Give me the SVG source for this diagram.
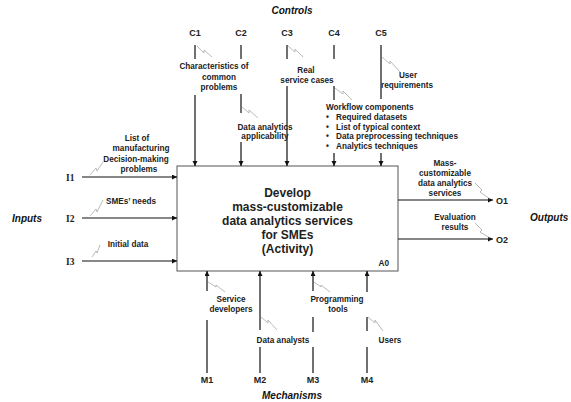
<svg xmlns="http://www.w3.org/2000/svg" width="571" height="402" viewBox="0 0 571 402">
<style>
.ln{stroke:#111;stroke-width:1.2;fill:none}
.sq{stroke:#aaa;stroke-width:0.8;fill:none}
.lb{font-family:"Liberation Sans",Arial,sans-serif;font-size:8.2px;font-weight:bold;fill:#222;text-anchor:middle}
.lbs{font-family:"Liberation Sans",Arial,sans-serif;font-size:8.2px;font-weight:bold;fill:#222}
.code{font-family:"Liberation Sans",Arial,sans-serif;font-size:9px;font-weight:bold;fill:#222;text-anchor:middle}
.icode{font-family:"Liberation Serif","Times New Roman",serif;font-size:9.5px;font-weight:bold;fill:#222}
.ttl{font-family:"Liberation Sans",Arial,sans-serif;font-size:10px;font-weight:bold;font-style:italic;fill:#111}
.main{font-family:"Liberation Sans",Arial,sans-serif;font-size:12px;font-weight:bold;fill:#222;text-anchor:middle}
</style>
<defs>
<marker id="ah" markerWidth="6" markerHeight="6" refX="5" refY="2.5" orient="auto" markerUnits="userSpaceOnUse">
<path d="M0,0 L5,2.5 L0,5 z" fill="#111"/>
</marker>
</defs>
<rect width="571" height="402" fill="#fff"/>

<g id="titles">
<text class="ttl" x="292" y="14" text-anchor="middle">Controls</text>
<text class="ttl" x="12" y="221.5">Inputs</text>
<text class="ttl" x="530" y="221">Outputs</text>
<text class="ttl" x="292" y="399" text-anchor="middle">Mechanisms</text>
</g>

<g id="A0">
<rect x="177" y="166" width="221" height="105" fill="#fff" stroke="#555" stroke-width="1"/>
<text class="main" x="287.5" y="197">Develop</text>
<text class="main" x="287.5" y="211">mass-customizable</text>
<text class="main" x="287.5" y="225">data analytics services</text>
<text class="main" x="287.5" y="239">for SMEs</text>
<text class="main" x="287.5" y="253">(Activity)</text>
<text class="lbs" x="389" y="266" text-anchor="end">A0</text>
</g>

<g id="codes">
<text class="code" x="195" y="35.5">C1</text>
<text class="code" x="241" y="35.5">C2</text>
<text class="code" x="287" y="35.5">C3</text>
<text class="code" x="334" y="35.5">C4</text>
<text class="code" x="381" y="35.5">C5</text>
<text class="icode" x="66" y="180.5">I1</text>
<text class="icode" x="66" y="221.5">I2</text>
<text class="icode" x="66" y="264.5">I3</text>
<text class="code" x="502" y="203.5" text-anchor="start">O1</text>
<text class="code" x="502" y="242.5" text-anchor="start">O2</text>
<text class="code" x="207" y="382.5">M1</text>
<text class="code" x="260" y="382.5">M2</text>
<text class="code" x="313" y="382.5">M3</text>
<text class="code" x="367" y="382.5">M4</text>
</g>

<g id="connectors">
<!-- Controls -->
<line class="ln" x1="195" y1="45" x2="195" y2="59"/>
<line class="ln" x1="195" y1="95" x2="195" y2="166" marker-end="url(#ah)"/>
<line class="ln" x1="241" y1="45" x2="241" y2="59"/>
<line class="ln" x1="241" y1="94" x2="241" y2="113"/>
<line class="ln" x1="241" y1="142" x2="241" y2="166" marker-end="url(#ah)"/>
<line class="ln" x1="287" y1="45" x2="287" y2="59"/>
<line class="ln" x1="287" y1="86" x2="287" y2="166" marker-end="url(#ah)"/>
<line class="ln" x1="334" y1="45" x2="334" y2="59"/>
<line class="ln" x1="334" y1="86" x2="334" y2="100"/>
<line class="ln" x1="334" y1="153" x2="334" y2="166" marker-end="url(#ah)"/>
<line class="ln" x1="381" y1="45" x2="381" y2="99"/>
<line class="ln" x1="381" y1="153" x2="381" y2="166" marker-end="url(#ah)"/>
<!-- Inputs -->
<line class="ln" x1="82" y1="177" x2="177" y2="177" marker-end="url(#ah)"/>
<line class="ln" x1="82" y1="218" x2="177" y2="218" marker-end="url(#ah)"/>
<line class="ln" x1="82" y1="261" x2="177" y2="261" marker-end="url(#ah)"/>
<!-- Outputs -->
<line class="ln" x1="398" y1="200" x2="493" y2="200" marker-end="url(#ah)"/>
<line class="ln" x1="398" y1="239" x2="493" y2="239" marker-end="url(#ah)"/>
<!-- Mechanisms -->
<line class="ln" x1="207" y1="291" x2="207" y2="271" marker-end="url(#ah)"/>
<line class="ln" x1="207" y1="320" x2="207" y2="373"/>
<line class="ln" x1="260" y1="330" x2="260" y2="271" marker-end="url(#ah)"/>
<line class="ln" x1="260" y1="347" x2="260" y2="373"/>
<line class="ln" x1="313" y1="291" x2="313" y2="271" marker-end="url(#ah)"/>
<line class="ln" x1="313" y1="317" x2="313" y2="332"/>
<line class="ln" x1="313" y1="347" x2="313" y2="373"/>
<line class="ln" x1="367" y1="292" x2="367" y2="271" marker-end="url(#ah)"/>
<line class="ln" x1="367" y1="317" x2="367" y2="331"/>
<line class="ln" x1="367" y1="347" x2="367" y2="373"/>

<!-- squiggles -->
<polyline class="sq" points="197,46 204,53 204,50 212,57"/>
<polyline class="sq" points="242,107 249,113 249,110 258,118"/>
<polyline class="sq" points="288,46 295,52 295,49 303,57"/>
<polyline class="sq" points="335,88 343,94 343,91 352,100"/>
<polyline class="sq" points="382,57 390,64 390,61 400,72"/>
<polyline class="sq" points="90,175 96,168 97,171 103,162"/>
<polyline class="sq" points="90,216 96,209 97,212 103,200"/>
<polyline class="sq" points="92,257 96,251 97,253 100,245"/>
<polyline class="sq" points="475,183 482,190 480,192 490,199"/>
<polyline class="sq" points="475,223 482,230 480,232 490,238"/>
<polyline class="sq" points="208,282 216,287 216,285 225,292"/>
<polyline class="sq" points="261,317 268,323 268,320 277,330"/>
<polyline class="sq" points="314,282 321,287 321,285 330,292"/>
<polyline class="sq" points="368,317 375,323 375,320 383,331"/>

<!-- labels -->
<text class="lb" x="214" y="69">Characteristics of</text>
<text class="lb" x="219" y="79.5">common</text>
<text class="lb" x="219" y="90">problems</text>
<text class="lb" x="265" y="129.5">Data analytics</text>
<text class="lb" x="265" y="139">applicability</text>
<text class="lb" x="306" y="72.5">Real</text>
<text class="lb" x="307" y="82.5">service cases</text>
<text class="lb" x="408" y="78">User</text>
<text class="lb" x="407" y="88">requirements</text>
<text class="lbs" x="326" y="110.3">Workflow components</text>
<text class="lbs" x="326" y="120.3">•</text><text class="lbs" x="336" y="120.3">Required datasets</text>
<text class="lbs" x="326" y="129.8">•</text><text class="lbs" x="336" y="129.8">List of typical context</text>
<text class="lbs" x="326" y="139.3">•</text><text class="lbs" x="336" y="139.3">Data preprocessing techniques</text>
<text class="lbs" x="326" y="149">•</text><text class="lbs" x="336" y="149">Analytics techniques</text>
<text class="lb" x="137" y="140.5">List of</text>
<text class="lb" x="141" y="151">manufacturing</text>
<text class="lb" x="136" y="161.5">Decision-making</text>
<text class="lb" x="139" y="171.5">problems</text>
<text class="lb" x="131" y="204">SMEs’ needs</text>
<text class="lb" x="128" y="247">Initial data</text>
<text class="lb" x="445" y="166">Mass-</text>
<text class="lb" x="445" y="176">customizable</text>
<text class="lb" x="445" y="186">data analytics</text>
<text class="lb" x="445" y="196">services</text>
<text class="lb" x="455" y="220">Evaluation</text>
<text class="lb" x="455" y="229.5">results</text>
<text class="lb" x="231" y="302">Service</text>
<text class="lb" x="231" y="312">developers</text>
<text class="lb" x="283" y="343">Data analysts</text>
<text class="lb" x="337" y="302">Programming</text>
<text class="lb" x="338" y="312">tools</text>
<text class="lb" x="390" y="343">Users</text>
</g>
</svg>
